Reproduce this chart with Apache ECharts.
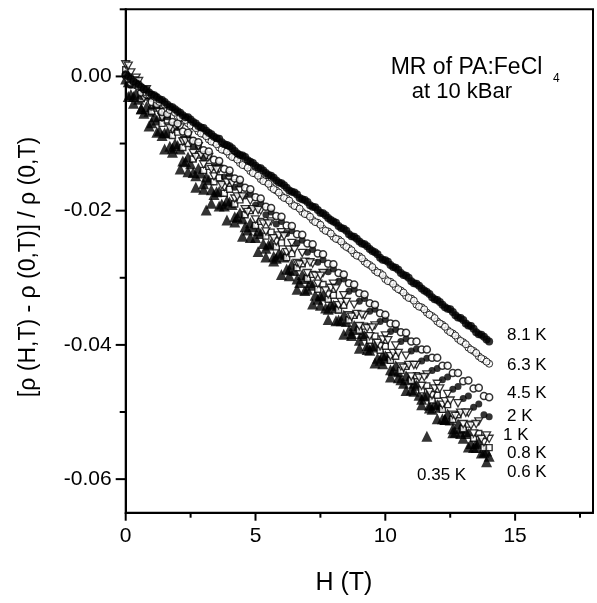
<!DOCTYPE html>
<html>
<head>
<meta charset="utf-8">
<style>
  html, body { margin: 0; padding: 0; background: #fff; }
  #chart { width: 597px; height: 603px; }
</style>
<script src="https://cdn.jsdelivr.net/npm/echarts@6/dist/echarts.min.js"></script>
</head>
<body>
<div id="chart"></div>
<script>
// ---- data ----
// main field grid (T)
const fieldT = [0, 0.2, 0.4, 0.6, 0.8, 1.0, 1.2, 1.4, 1.6, 1.8,
  2.0, 2.2, 2.4, 2.6, 2.8, 3.0, 3.2, 3.4, 3.6, 3.8,
  4.0, 4.2, 4.4, 4.6, 4.8, 5.0, 5.2, 5.4, 5.6, 5.8,
  6.0, 6.2, 6.4, 6.6, 6.8, 7.0, 7.2, 7.4, 7.6, 7.8,
  8.0, 8.2, 8.4, 8.6, 8.8, 9.0, 9.2, 9.4, 9.6, 9.8,
  10.0, 10.2, 10.4, 10.6, 10.8, 11.0, 11.2, 11.4, 11.6, 11.8,
  12.0, 12.2, 12.4, 12.6, 12.8, 13.0, 13.2, 13.4, 13.6, 13.8, 14.0];
// in-between field points (T)
const fieldMid = [0.1, 0.3, 0.5, 0.7, 0.9, 1.1, 1.3, 1.5, 1.7, 1.9,
  2.1, 2.3, 2.5, 2.7, 2.9, 3.1, 3.3, 3.5, 3.7, 3.9,
  4.1, 4.3, 4.5, 4.7, 4.9, 5.1, 5.3, 5.5, 5.7, 5.9,
  6.1, 6.3, 6.5, 6.7, 6.9, 7.1, 7.3, 7.5, 7.7, 7.9,
  8.1, 8.3, 8.5, 8.7, 8.9, 9.1, 9.3, 9.5, 9.7, 9.9,
  10.1, 10.3, 10.5, 10.7, 10.9, 11.1, 11.3, 11.5, 11.7, 11.9,
  12.1, 12.3, 12.5, 12.7, 12.9, 13.1, 13.3, 13.5, 13.7, 13.9];

const mr81K = [0.0002, -0.0004, -0.0010, -0.0016, -0.0020, -0.0027, -0.0031, -0.0035, -0.0042, -0.0046,
  -0.0052, -0.0058, -0.0061, -0.0068, -0.0074, -0.0077, -0.0084, -0.0090, -0.0093, -0.0101,
  -0.0104, -0.0111, -0.0117, -0.0120, -0.0127, -0.0133, -0.0137, -0.0144, -0.0148, -0.0155,
  -0.0159, -0.0166, -0.0172, -0.0176, -0.0183, -0.0187, -0.0194, -0.0199, -0.0204, -0.0211,
  -0.0216, -0.0223, -0.0227, -0.0235, -0.0239, -0.0246, -0.0250, -0.0257, -0.0262, -0.0270,
  -0.0274, -0.0281, -0.0285, -0.0293, -0.0297, -0.0305, -0.0309, -0.0316, -0.0321, -0.0329,
  -0.0333, -0.0340, -0.0346, -0.0351, -0.0359, -0.0363, -0.0371, -0.0376, -0.0384, -0.0388, -0.0395];
const mr81KMid = [0.0000, -0.0008, -0.0012, -0.0019, -0.0024, -0.0028, -0.0034, -0.0038, -0.0045, -0.0049,
  -0.0054, -0.0061, -0.0064, -0.0070, -0.0076, -0.0081, -0.0086, -0.0092, -0.0098, -0.0102,
  -0.0107, -0.0115, -0.0118, -0.0125, -0.0129, -0.0136, -0.0140, -0.0147, -0.0151, -0.0158,
  -0.0162, -0.0170, -0.0173, -0.0181, -0.0184, -0.0192, -0.0195, -0.0203, -0.0207, -0.0214,
  -0.0218, -0.0226, -0.0230, -0.0238, -0.0242, -0.0249, -0.0253, -0.0260, -0.0265, -0.0273,
  -0.0276, -0.0284, -0.0288, -0.0296, -0.0300, -0.0308, -0.0312, -0.0319, -0.0324, -0.0332,
  -0.0336, -0.0344, -0.0347, -0.0356, -0.0360, -0.0368, -0.0372, -0.0381, -0.0385, -0.0392];

const mr63K = [0.0001, -0.0005, -0.0012, -0.0016, -0.0024, -0.0028, -0.0035, -0.0039, -0.0047, -0.0051,
  -0.0059, -0.0062, -0.0070, -0.0074, -0.0082, -0.0086, -0.0094, -0.0098, -0.0106, -0.0110,
  -0.0117, -0.0121, -0.0129, -0.0133, -0.0141, -0.0145, -0.0153, -0.0157, -0.0165, -0.0170,
  -0.0178, -0.0182, -0.0190, -0.0194, -0.0202, -0.0206, -0.0214, -0.0218, -0.0227, -0.0231,
  -0.0239, -0.0243, -0.0251, -0.0256, -0.0264, -0.0268, -0.0276, -0.0281, -0.0289, -0.0293,
  -0.0302, -0.0306, -0.0314, -0.0319, -0.0327, -0.0331, -0.0340, -0.0344, -0.0352, -0.0357,
  -0.0365, -0.0370, -0.0378, -0.0383, -0.0391, -0.0396, -0.0404, -0.0409, -0.0417, -0.0422, -0.0428];
const mr63KMid = [-0.0003, -0.0007, -0.0015, -0.0019, -0.0027, -0.0030, -0.0038, -0.0042, -0.0050, -0.0054,
  -0.0061, -0.0065, -0.0073, -0.0077, -0.0085, -0.0089, -0.0097, -0.0101, -0.0109, -0.0112,
  -0.0120, -0.0124, -0.0132, -0.0136, -0.0144, -0.0148, -0.0156, -0.0160, -0.0168, -0.0173,
  -0.0181, -0.0185, -0.0193, -0.0197, -0.0205, -0.0209, -0.0217, -0.0221, -0.0230, -0.0234,
  -0.0242, -0.0246, -0.0254, -0.0259, -0.0267, -0.0271, -0.0279, -0.0284, -0.0292, -0.0296,
  -0.0305, -0.0309, -0.0317, -0.0322, -0.0330, -0.0334, -0.0343, -0.0347, -0.0355, -0.0360,
  -0.0368, -0.0373, -0.0381, -0.0386, -0.0394, -0.0399, -0.0407, -0.0412, -0.0420, -0.0425];

const mr45K = [0.0003, -0.0009, -0.0012, -0.0024, -0.0027,
  -0.0038, -0.0041, -0.0053, -0.0056, -0.0068,
  -0.0070, -0.0082, -0.0084, -0.0096, -0.0098,
  -0.0110, -0.0112, -0.0124, -0.0126, -0.0138,
  -0.0140, -0.0152, -0.0154, -0.0166, -0.0168,
  -0.0180, -0.0182, -0.0194, -0.0196, -0.0208,
  -0.0209, -0.0222, -0.0223, -0.0235, -0.0236,
  -0.0249, -0.0250, -0.0264, -0.0265, -0.0279,
  -0.0280, -0.0293, -0.0295, -0.0308, -0.0310,
  -0.0323, -0.0325, -0.0338, -0.0340, -0.0353,
  -0.0355, -0.0368, -0.0369, -0.0381, -0.0382,
  -0.0395, -0.0395, -0.0407, -0.0407, -0.0419,
  -0.0419, -0.0431, -0.0431, -0.0442, -0.0442,
  -0.0454, -0.0453, -0.0465, -0.0464, -0.0476,
  -0.0478];

const mr2K = [0.0000, -0.0013, -0.0014, -0.0030, -0.0031,
  -0.0046, -0.0045, -0.0062, -0.0060, -0.0077,
  -0.0076, -0.0093, -0.0090, -0.0106, -0.0104,
  -0.0122, -0.0118, -0.0135, -0.0132, -0.0150,
  -0.0146, -0.0165, -0.0160, -0.0178, -0.0174,
  -0.0192, -0.0188, -0.0206, -0.0202, -0.0220,
  -0.0216, -0.0234, -0.0230, -0.0248, -0.0244,
  -0.0262, -0.0258, -0.0277, -0.0273, -0.0291,
  -0.0287, -0.0305, -0.0302, -0.0320, -0.0317,
  -0.0335, -0.0331, -0.0350, -0.0347, -0.0365,
  -0.0362, -0.0380, -0.0377, -0.0395, -0.0391,
  -0.0409, -0.0406, -0.0424, -0.0420, -0.0438,
  -0.0435, -0.0452, -0.0448, -0.0466, -0.0462,
  -0.0480, -0.0476, -0.0493, -0.0488, -0.0504,
  -0.0507];

const mr1K = [0.0018, 0.0006, -0.0002, -0.0021, -0.0019,
  -0.0042, -0.0038, -0.0061, -0.0055, -0.0079,
  -0.0072, -0.0097, -0.0088, -0.0114, -0.0104,
  -0.0131, -0.0120, -0.0149, -0.0138, -0.0165,
  -0.0154, -0.0182, -0.0170, -0.0198, -0.0185,
  -0.0213, -0.0200, -0.0231, -0.0216, -0.0246,
  -0.0232, -0.0262, -0.0248, -0.0278, -0.0263,
  -0.0293, -0.0279, -0.0309, -0.0293, -0.0325,
  -0.0309, -0.0341, -0.0326, -0.0356, -0.0340,
  -0.0372, -0.0356, -0.0387, -0.0371, -0.0402,
  -0.0386, -0.0417, -0.0401, -0.0432, -0.0416,
  -0.0447, -0.0430, -0.0461, -0.0444, -0.0475,
  -0.0458, -0.0489, -0.0473, -0.0504, -0.0487,
  -0.0518, -0.0501, -0.0532, -0.0514, -0.0545,
  -0.0540];
const mr1KMid = [0.0016, -0.0006, -0.0007, -0.0032, -0.0029,
  -0.0032, -0.0053, -0.0053, -0.0077, -0.0074,
  -0.0076, -0.0096, -0.0097, -0.0120, -0.0117,
  -0.0118, -0.0138, -0.0139, -0.0162, -0.0158,
  -0.0159, -0.0179, -0.0179, -0.0202, -0.0198,
  -0.0199, -0.0219, -0.0219, -0.0241, -0.0237,
  -0.0238, -0.0258, -0.0258, -0.0280, -0.0276,
  -0.0277, -0.0297, -0.0297, -0.0319, -0.0315,
  -0.0316, -0.0336, -0.0336, -0.0358, -0.0354,
  -0.0355, -0.0375, -0.0374, -0.0397, -0.0392,
  -0.0393, -0.0412, -0.0412, -0.0434, -0.0430,
  -0.0430, -0.0449, -0.0448, -0.0470, -0.0465,
  -0.0465, -0.0484, -0.0483, -0.0506, -0.0501,
  -0.0501, -0.0520, -0.0518, -0.0540, -0.0535];

const mr08K = [0.0010, -0.0012, -0.0008, -0.0033, -0.0028,
  -0.0052, -0.0047, -0.0070, -0.0065, -0.0088,
  -0.0083, -0.0106, -0.0100, -0.0123, -0.0117,
  -0.0140, -0.0134, -0.0157, -0.0151, -0.0174,
  -0.0168, -0.0190, -0.0184, -0.0206, -0.0200,
  -0.0222, -0.0216, -0.0238, -0.0232, -0.0254,
  -0.0248, -0.0270, -0.0264, -0.0285, -0.0279,
  -0.0301, -0.0295, -0.0317, -0.0310, -0.0332,
  -0.0326, -0.0348, -0.0341, -0.0363, -0.0356,
  -0.0378, -0.0372, -0.0393, -0.0387, -0.0408,
  -0.0402, -0.0423, -0.0417, -0.0438, -0.0432,
  -0.0453, -0.0446, -0.0467, -0.0461, -0.0482,
  -0.0475, -0.0496, -0.0489, -0.0511, -0.0504,
  -0.0525, -0.0518, -0.0539, -0.0532, -0.0553,
  -0.0553];

const mr06K = [-0.0004, -0.0027, -0.0025, -0.0048, -0.0045,
  -0.0069, -0.0065, -0.0088, -0.0084, -0.0107,
  -0.0103, -0.0126, -0.0120, -0.0143, -0.0137,
  -0.0160, -0.0154, -0.0176, -0.0171, -0.0193,
  -0.0187, -0.0209, -0.0203, -0.0224, -0.0218,
  -0.0240, -0.0234, -0.0256, -0.0249, -0.0271,
  -0.0265, -0.0287, -0.0280, -0.0302, -0.0295,
  -0.0317, -0.0311, -0.0332, -0.0326, -0.0347,
  -0.0341, -0.0363, -0.0356, -0.0378, -0.0371,
  -0.0393, -0.0386, -0.0408, -0.0401, -0.0423,
  -0.0416, -0.0437, -0.0431, -0.0452, -0.0446,
  -0.0467, -0.0460, -0.0481, -0.0475, -0.0496,
  -0.0489, -0.0510, -0.0503, -0.0525, -0.0518,
  -0.0539, -0.0532, -0.0553, -0.0545, -0.0560,
  -0.0566];
const mr06KMid = [-0.0008, -0.0030, -0.0034, -0.0055, -0.0052,
  -0.0060, -0.0081, -0.0084, -0.0104, -0.0100,
  -0.0108, -0.0127, -0.0130, -0.0148, -0.0144,
  -0.0150, -0.0169, -0.0172, -0.0190, -0.0185,
  -0.0191, -0.0210, -0.0212, -0.0229, -0.0224,
  -0.0230, -0.0249, -0.0251, -0.0268, -0.0263,
  -0.0269, -0.0288, -0.0289, -0.0307, -0.0301,
  -0.0307, -0.0326, -0.0327, -0.0345, -0.0339,
  -0.0345, -0.0364, -0.0365, -0.0383, -0.0377,
  -0.0383, -0.0401, -0.0403, -0.0420, -0.0415,
  -0.0420, -0.0438, -0.0440, -0.0457, -0.0452,
  -0.0457, -0.0475, -0.0476, -0.0494, -0.0488,
  -0.0493, -0.0511, -0.0512, -0.0530, -0.0524,
  -0.0529, -0.0547, -0.0547, -0.0561, -0.0558];

const field035K = [0.1, 0.3, 0.6, 0.9, 1.2, 1.5, 1.8, 2.1, 2.4, 2.7,
  3.0, 3.1, 3.3, 3.6, 3.9, 4.2, 4.5, 4.8, 5.1, 5.4,
  5.7, 6.0, 6.3, 6.6, 6.9, 7.2, 7.5, 7.8, 8.1, 8.4,
  8.7, 9.0, 9.3, 9.6, 9.9, 10.2, 10.5, 10.8, 11.1, 11.4,
  11.6, 11.7, 12.0, 12.3, 12.6, 12.9, 13.2, 13.5, 13.9];
const mr035K = [-0.0030, -0.0040, -0.0048, -0.0074, -0.0083, -0.0108, -0.0113, -0.0138, -0.0142, -0.0165,
  -0.0168, -0.0199, -0.0189, -0.0193, -0.0214, -0.0217, -0.0238, -0.0240, -0.0261, -0.0269,
  -0.0275, -0.0295, -0.0297, -0.0317, -0.0319, -0.0339, -0.0341, -0.0362, -0.0364, -0.0384,
  -0.0386, -0.0405, -0.0407, -0.0427, -0.0428, -0.0448, -0.0449, -0.0468, -0.0469, -0.0489,
  -0.0536, -0.0490, -0.0510, -0.0511, -0.0531, -0.0532, -0.0552, -0.0553, -0.0574];

const X_MIN = 0, X_MAX = 18, Y_MIN = -0.065, Y_MAX = 0.01;
const xMajorTicks = [0, 5, 10, 15];
const xMinorTicks = [2.5, 7.5, 12.5, 17.5];
const yMajorTicks = [0, -0.02, -0.04, -0.06];
const yMinorTicks = [0.01, -0.01, -0.03, -0.05];

const tempLabels = ['8.1 K', '6.3 K', '4.5 K', '2 K', '1 K', '0.8 K', '0.6 K', '0.35 K'];

// ---- chart ----
const FONT = "'Liberation Sans', Arial, Helvetica, sans-serif";
const pair = (xs, ys) => xs.map((h, i) => [h, ys[i]]);
const downTri = 'path://M0,0L10,0L5,9Z';

const chart = echarts.init(document.getElementById('chart'), null, { renderer: 'canvas' });

function scatter(name, pts, symbol, size, filled, z, bw) {
  return {
    name, type: 'scatter', data: pts, symbol, symbolSize: size,
    symbolKeepAspect: true, z,
    itemStyle: filled ? { color: '#000', borderWidth: 0 }
                      : { color: '#fff', borderColor: '#000', borderWidth: bw || 1 },
    silent: true
  };
}

// axis ticks drawn through the axis scales (pointing outward)
function tickSeries(points, horizontal, len) {
  return {
    type: 'custom', silent: true, clip: false, z: 20,
    data: points,
    renderItem: (params, api) => {
      const p = api.coord([api.value(0), api.value(1)]);
      const shape = horizontal
        ? { x1: p[0], y1: p[1], x2: p[0], y2: p[1] + len }
        : { x1: p[0], y1: p[1], x2: p[0] - len, y2: p[1] };
      return { type: 'line', shape, style: { stroke: '#000', lineWidth: 2 } };
    }
  };
}

const option = {
  animation: false,
  backgroundColor: '#fff',
  grid: { left: 125.7, right: 4, top: 9.3, bottom: 90.3, show: true,
          borderColor: '#000', borderWidth: 2, containLabel: false },
  xAxis: {
    type: 'value', min: X_MIN, max: X_MAX,
    name: 'H (T)', nameLocation: 'middle', nameGap: 58,
    nameTextStyle: { fontFamily: FONT, fontSize: 25, color: '#000', padding: [0, 31, 0, 0] },
    axisLine: { show: true, onZero: false, lineStyle: { color: '#000', width: 2 } },
    axisTick: { show: false },
    minorTick: { show: false },
    axisLabel: { show: true, customValues: xMajorTicks, margin: 13, fontFamily: FONT, fontSize: 21, color: '#000' },
    splitLine: { show: false }, minorSplitLine: { show: false }
  },
  yAxis: {
    type: 'value', min: Y_MIN, max: Y_MAX,
    name: '[\u03c1 (H,T) - \u03c1 (0,T)] / \u03c1 (0,T)', nameLocation: 'middle', nameGap: 86,
    nameTextStyle: { fontFamily: FONT, fontSize: 23, color: '#000', padding: [0, 12, 0, 0] },
    axisLine: { show: true, onZero: false, lineStyle: { color: '#000', width: 2 } },
    axisTick: { show: false },
    minorTick: { show: false },
    axisLabel: { show: true, customValues: yMajorTicks, margin: 14, fontFamily: FONT, fontSize: 21, color: '#000',
                 formatter: v => v.toFixed(2) },
    splitLine: { show: false }, minorSplitLine: { show: false }
  },
  series: [
    scatter('0.35 K', pair(field035K, mr035K), 'triangle', 11, true, 2),
    scatter('0.6 K', pair(fieldT, mr06K).concat(pair(fieldMid, mr06KMid)), 'triangle', 11, true, 3),
    scatter('0.8 K', pair(fieldT, mr08K), 'rect', 6, false, 4, 1.4),
    scatter('2 K', pair(fieldT, mr2K), 'circle', 7, true, 5),
    scatter('1 K', pair(fieldT, mr1K).concat(pair(fieldMid, mr1KMid)), downTri, 8, false, 6, 1.3),
    scatter('4.5 K', pair(fieldT, mr45K), 'circle', 7, false, 7, 1.5),
    scatter('6.3 K', pair(fieldT, mr63K).concat(pair(fieldMid, mr63KMid)), 'circle', 7, false, 8),
    scatter('8.1 K', pair(fieldT, mr81K).concat(pair(fieldMid, mr81KMid)), 'circle', 8, true, 9),
    tickSeries(xMajorTicks.map(v => [v, Y_MIN]), true, 8),
    tickSeries(xMinorTicks.map(v => [v, Y_MIN]), true, 5),
    tickSeries(yMajorTicks.map(v => [X_MIN, v]), false, 10),
    tickSeries(yMinorTicks.map(v => [X_MIN, v]), false, 6)
  ],
  graphic: [
    { type: 'text', x: 390.7, y: 67.8, style: { text: 'MR of PA:FeCl', font: '23px ' + FONT, fill: '#000', textVerticalAlign: 'middle' } },
    { type: 'text', x: 553, y: 78.5, style: { text: '4', font: '12px ' + FONT, fill: '#000', textVerticalAlign: 'middle' } },
    { type: 'text', x: 411.7, y: 92.2, style: { text: 'at 10 kBar', font: '22px ' + FONT, fill: '#000', textVerticalAlign: 'middle' } },
    { type: 'text', x: 507, y: 335, style: { text: tempLabels[0], font: '17px ' + FONT, fill: '#000', textVerticalAlign: 'middle' } },
    { type: 'text', x: 507, y: 365, style: { text: tempLabels[1], font: '17px ' + FONT, fill: '#000', textVerticalAlign: 'middle' } },
    { type: 'text', x: 507, y: 393, style: { text: tempLabels[2], font: '17px ' + FONT, fill: '#000', textVerticalAlign: 'middle' } },
    { type: 'text', x: 507, y: 416, style: { text: tempLabels[3], font: '17px ' + FONT, fill: '#000', textVerticalAlign: 'middle' } },
    { type: 'text', x: 503, y: 435, style: { text: tempLabels[4], font: '17px ' + FONT, fill: '#000', textVerticalAlign: 'middle' } },
    { type: 'text', x: 507, y: 453, style: { text: tempLabels[5], font: '17px ' + FONT, fill: '#000', textVerticalAlign: 'middle' } },
    { type: 'text', x: 507, y: 472, style: { text: tempLabels[6], font: '17px ' + FONT, fill: '#000', textVerticalAlign: 'middle' } },
    { type: 'text', x: 417, y: 475, style: { text: tempLabels[7], font: '17px ' + FONT, fill: '#000', textVerticalAlign: 'middle' } }
  ]
};
chart.setOption(option);
</script>
</body>
</html>
